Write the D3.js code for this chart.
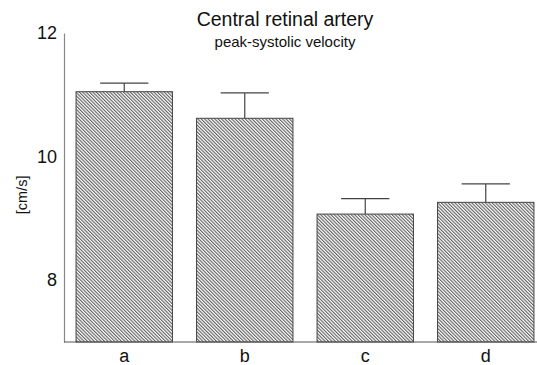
<!DOCTYPE html>
<html>
<head>
<meta charset="utf-8">
<script src="https://cdn.jsdelivr.net/npm/d3@7"></script>
<style>
  body { margin: 0; background: #fff; }
  svg { font-family: "Liberation Sans", Arial, sans-serif; }
</style>
</head>
<body>
<div id="chart"></div>
<script>
// data
const groups = ["a", "b", "c", "d"];
const means = [11.05, 10.62, 9.07, 9.26];
const errors = [0.14, 0.41, 0.25, 0.3];
const yTicks = [8, 10, 12];

const width = 537, height = 365;
const margin = { top: 33, right: 0, bottom: 23, left: 64 };

var svg = d3.select("#chart")
    .append("svg")
    .attr("width", width)
    .attr("height", height);

// diagonal hatch fill
var pat = svg.append("defs").append("pattern")
    .attr("id", "hatch")
    .attr("patternUnits", "userSpaceOnUse")
    .attr("width", 2.4)
    .attr("height", 2.4)
    .attr("patternTransform", "rotate(-45)");
pat.append("rect").attr("width", 2.4).attr("height", 2.4).attr("fill", "#fff");
pat.append("line")
    .attr("x1", 0.6).attr("y1", 0).attr("x2", 0.6).attr("y2", 2.4)
    .attr("stroke", "#444").attr("stroke-width", 0.95);

var xScale = d3.scaleBand()
    .domain(groups)
    .range([margin.left, 546])
    .paddingInner(0.2)
    .paddingOuter(0.1);
var yScale = d3.scaleLinear()
    .domain([7, 12])
    .range([height - margin.bottom, margin.top]);

// title
svg.append("text")
    .attr("x", 285).attr("y", 26)
    .attr("text-anchor", "middle")
    .attr("font-size", "19.5px")
    .attr("fill", "#111")
    .text("Central retinal artery");
svg.append("text")
    .attr("x", 285).attr("y", 47)
    .attr("text-anchor", "middle")
    .attr("font-size", "15px")
    .attr("fill", "#111")
    .text("peak-systolic velocity");

// y axis
var yAxis = svg.append("g")
    .attr("transform", "translate(" + margin.left + ",0)")
    .call(d3.axisLeft(yScale).tickValues(yTicks).tickFormat(d3.format("d")).tickSize(0).tickPadding(7));
yAxis.select(".domain").attr("stroke", "#888").attr("stroke-width", 1.2);
yAxis.selectAll("text")
    .attr("font-size", "18px")
    .attr("fill", "#111")
    .attr("font-family", "Liberation Sans, Arial, sans-serif");

svg.append("text")
    .attr("transform", "translate(22," + yScale(9.38) + ") rotate(-90)")
    .attr("text-anchor", "middle")
    .attr("dy", "0.35em")
    .attr("font-size", "14.5px")
    .attr("fill", "#111")
    .text("[cm/s]");

// bars
svg.selectAll(".bar")
    .data(groups)
    .enter().append("rect")
    .attr("class", "bar")
    .attr("x", d => xScale(d))
    .attr("y", (d, i) => yScale(means[i]))
    .attr("width", xScale.bandwidth())
    .attr("height", (d, i) => yScale(7) - yScale(means[i]))
    .attr("fill", "url(#hatch)")
    .attr("stroke", "#444")
    .attr("stroke-width", 1);

// error bars
var err = svg.selectAll(".err")
    .data(groups)
    .enter().append("g")
    .attr("class", "err")
    .attr("stroke", "#444")
    .attr("stroke-width", 1.2);
err.append("line")
    .attr("x1", d => xScale(d) + xScale.bandwidth() / 2)
    .attr("x2", d => xScale(d) + xScale.bandwidth() / 2)
    .attr("y1", (d, i) => yScale(means[i]))
    .attr("y2", (d, i) => yScale(means[i] + errors[i]));
err.append("line")
    .attr("x1", d => xScale(d) + xScale.bandwidth() / 4)
    .attr("x2", d => xScale(d) + xScale.bandwidth() * 3 / 4)
    .attr("y1", (d, i) => yScale(means[i] + errors[i]))
    .attr("y2", (d, i) => yScale(means[i] + errors[i]));

// x axis
var xAxis = svg.append("g")
    .attr("transform", "translate(0," + yScale(7) + ")")
    .call(d3.axisBottom(xScale).tickSize(0));
xAxis.select(".domain")
    .attr("d", "M" + margin.left + ",0H" + width)
    .attr("stroke", "#555").attr("stroke-width", 1.2);
xAxis.selectAll("text")
    .attr("y", 20)
    .attr("dy", null)
    .attr("font-size", "18px")
    .attr("fill", "#111")
    .attr("font-family", "Liberation Sans, Arial, sans-serif");
</script>
</body>
</html>
